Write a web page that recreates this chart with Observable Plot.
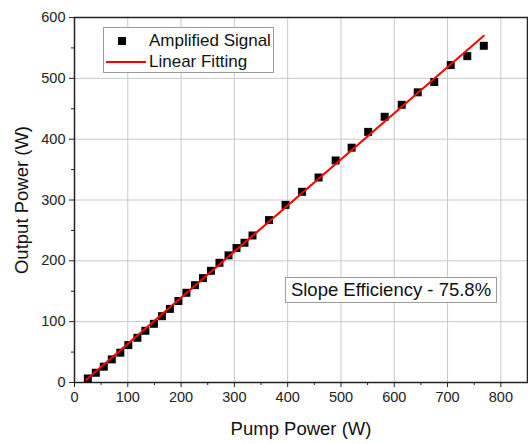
<!DOCTYPE html>
<html><head><meta charset="utf-8">
<script src="https://cdn.jsdelivr.net/npm/d3@7"></script>
<script src="https://cdn.jsdelivr.net/npm/@observablehq/plot@0.6"></script>
<style>
body{margin:0;background:#fff;font-family:"Liberation Sans",Arial,sans-serif;}
#wrap{position:relative;width:528px;height:444px;overflow:hidden;}
.box{position:absolute;background:#fff;border:1px solid #9a9a9a;box-sizing:border-box;color:#111;}
.lab{position:absolute;white-space:nowrap;line-height:20px;}
</style>
</head><body>
<div id="wrap"></div>
<script>
const pump = [25, 40, 55, 70, 86, 101, 118, 133, 149, 164, 179, 195, 210, 226, 241, 256, 272, 289, 304, 319, 334, 365, 396, 427, 458, 490, 520, 551, 582, 614, 644, 675, 706, 737, 768];
const output = [6.6, 16, 26, 38, 49, 61.5, 73.5, 85, 96.5, 109, 121, 134, 147.5, 160, 171.6, 183.6, 196.8, 209, 221, 229.7, 241.7, 267, 292, 313.5, 337, 365, 386, 412, 436.8, 456.5, 477, 494, 521.8, 536.5, 553.5];
const fitX = [22, 768];
const fitY = [4.6, 570];
const xTicks = [0, 100, 200, 300, 400, 500, 600, 700, 800];
const yTicks = [0, 100, 200, 300, 400, 500, 600];
const xMinor = [50, 150, 250, 350, 450, 550, 650, 750];
const yMinor = [50, 150, 250, 350, 450, 550];
const seriesNames = ["Amplified Signal", "Linear Fitting"];
const annotation = "Slope Efficiency - 75.8%";

const pts = pump.map((x, i) => ({x, y: output[i]}));
const fit = fitX.map((x, i) => ({x, y: fitY[i]}));

const chart = Plot.plot({
  width: 528, height: 444,
  marginLeft: 74, marginRight: 1, marginTop: 17, marginBottom: 62,
  style: {fontFamily: "'Liberation Sans', Arial, sans-serif", fontSize: "14.5px", color: "#222", background: "#fff"},
  x: {domain: [0, 850]},
  y: {domain: [0, 600]},
  marks: [
    Plot.gridX(xTicks, {stroke: "#c8c8c8", strokeOpacity: 1}),
    Plot.gridY(yTicks, {stroke: "#c8c8c8", strokeOpacity: 1}),
    Plot.axisX({ticks: xTicks, tickSize: 5, tickPadding: 4, label: null, fontSize: 14.5}),
    Plot.axisX({ticks: xMinor, tickSize: 3, tickFormat: () => "", label: null}),
    Plot.axisY({ticks: yTicks, tickSize: 5, tickPadding: 4, label: null, fontSize: 14.5}),
    Plot.axisY({ticks: yMinor, tickSize: 3, tickFormat: () => "", label: null}),
    Plot.frame({stroke: "#222", strokeWidth: 1.5}),
    Plot.dot(pts, {x: "x", y: "y", symbol: "square", r: 4.5, fill: "#000", stroke: "none"}),
    Plot.line(fit, {x: "x", y: "y", stroke: "#ff0000", strokeWidth: 2}),
    Plot.text(["Pump Power (W)"], {frameAnchor: "bottom", dy: 52, fontSize: 18.5, fill: "#111"}),
    Plot.text(["Output Power (W)"], {frameAnchor: "left", textAnchor: "middle", lineAnchor: "middle", dx: -52, rotate: -90, fontSize: 18.5, fill: "#111"})
  ]
});
const wrap = document.getElementById("wrap");
wrap.appendChild(chart);

// legend
const leg = document.createElement("div");
leg.className = "box";
Object.assign(leg.style, {left: "103px", top: "27px", width: "171px", height: "46px", fontSize: "17px"});
leg.innerHTML =
  `<div style="position:absolute;left:14px;top:9px;width:8px;height:8px;background:#000"></div>
   <span class="lab" style="left:45px;top:3px">${seriesNames[0]}</span>
   <div style="position:absolute;left:2px;top:33px;width:40px;height:2px;background:#ff0000"></div>
   <span class="lab" style="left:45px;top:24px">${seriesNames[1]}</span>`;
wrap.appendChild(leg);

// annotation
const ann = document.createElement("div");
ann.className = "box";
Object.assign(ann.style, {left: "285px", top: "277px", width: "212px", height: "26px", fontSize: "18.5px", lineHeight: "24px", textAlign: "center"});
ann.textContent = annotation;
wrap.appendChild(ann);
</script>
</body></html>
